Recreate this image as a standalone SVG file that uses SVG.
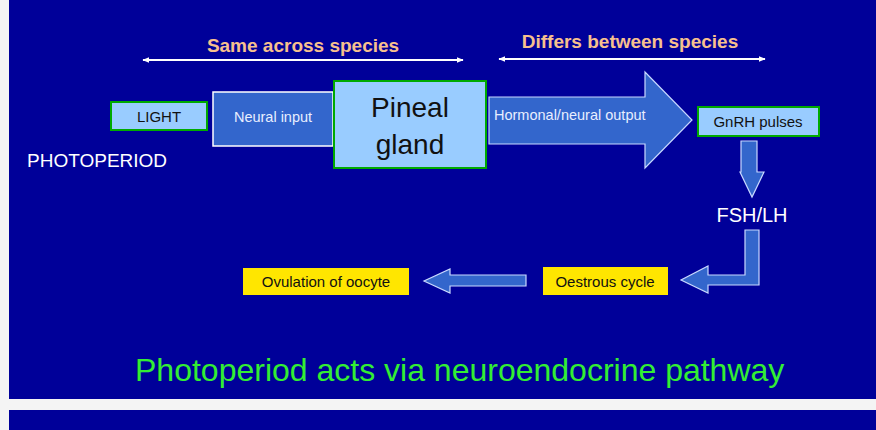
<svg xmlns="http://www.w3.org/2000/svg" width="876" height="430" viewBox="0 0 876 430">
<defs>
<marker id="ah" viewBox="0 0 10 10" refX="9" refY="5" markerWidth="7" markerHeight="7" orient="auto-start-reverse" markerUnits="userSpaceOnUse"><path d="M0,1 L10,5 L0,9 Z" fill="#fff"/></marker>
</defs>
<style>
text{font-family:"Liberation Sans",Arial,sans-serif}
.lb{fill:#99CCFF;stroke:#00AA00;stroke-width:2}
.yb{fill:#FFE600}
.ar{fill:#3366CC;stroke:#C8D8FF;stroke-width:1.2}
.dk{fill:#111;font-size:15px}
.hd{fill:#F7C08E;font-size:19px;font-weight:bold}
</style>
<rect width="876" height="430" fill="#F4F4F4"/>
<rect x="9" y="0" width="867" height="399" fill="#000099"/>
<rect x="9" y="410" width="867" height="20" fill="#000099"/>
<g id="connectors">
<line x1="143" y1="60" x2="463" y2="60" stroke="#fff" stroke-width="2" marker-start="url(#ah)" marker-end="url(#ah)"/>
<line x1="499" y1="59" x2="765" y2="59" stroke="#fff" stroke-width="2" marker-start="url(#ah)" marker-end="url(#ah)"/>
<path class="ar" d="M489,97 H645 V72 L692,120 L645,168 V144 H489 Z" fill="#3366CC" stroke="#fff" stroke-width="1.5"/>
<path class="ar" d="M741,141 H757 V172 H764 L752,197 L740,172 H741 Z"/>
<path class="ar" d="M745,230 H759 V285 H708 V293 L681,280 L708,266 V275 H745 Z"/>
<path class="ar" d="M526,275 V286 H450 V293 L424,281 L450,269 V275 Z"/>
</g>
<g id="labels">
<text class="hd" x="303" y="52" text-anchor="middle">Same across species</text>
<text class="hd" x="630" y="48" text-anchor="middle">Differs between species</text>
<text x="494" y="120" fill="#E8EEFF" font-size="14.5">Hormonal/neural output</text>
<text x="27" y="167" fill="#fff" font-size="19">PHOTOPERIOD</text>
</g>
<g id="light"><rect class="lb" x="111" y="102" width="96" height="28"/><text class="dk" x="159" y="122" text-anchor="middle">LIGHT</text></g>
<g id="neural"><rect x="213" y="92" width="120" height="54" fill="#3366CC" stroke="#fff" stroke-width="1.5"/><text x="273" y="122" fill="#E8EEFF" font-size="14.5" text-anchor="middle">Neural input</text></g>
<g id="pineal"><rect class="lb" x="334" y="81" width="152" height="87"/><text x="410" y="117" fill="#111" font-size="28" text-anchor="middle">Pineal</text><text x="410" y="154" fill="#111" font-size="28" text-anchor="middle">gland</text></g>
<g id="gnrh"><rect class="lb" x="698" y="107" width="121" height="29"/><text class="dk" x="758" y="127" text-anchor="middle">GnRH pulses</text></g>
<g id="fshlh"><text x="752" y="222" fill="#fff" font-size="20" text-anchor="middle">FSH/LH</text></g>
<g id="oestrous"><rect class="yb" x="543" y="267" width="125" height="28"/><text class="dk" x="605" y="287" text-anchor="middle">Oestrous cycle</text></g>
<g id="ovulation"><rect class="yb" x="243" y="268" width="166" height="27"/><text class="dk" x="326" y="287" text-anchor="middle">Ovulation of oocyte</text></g>
<text x="135" y="381" fill="#33EE33" font-size="32">Photoperiod acts via neuroendocrine pathway</text>
</svg>
